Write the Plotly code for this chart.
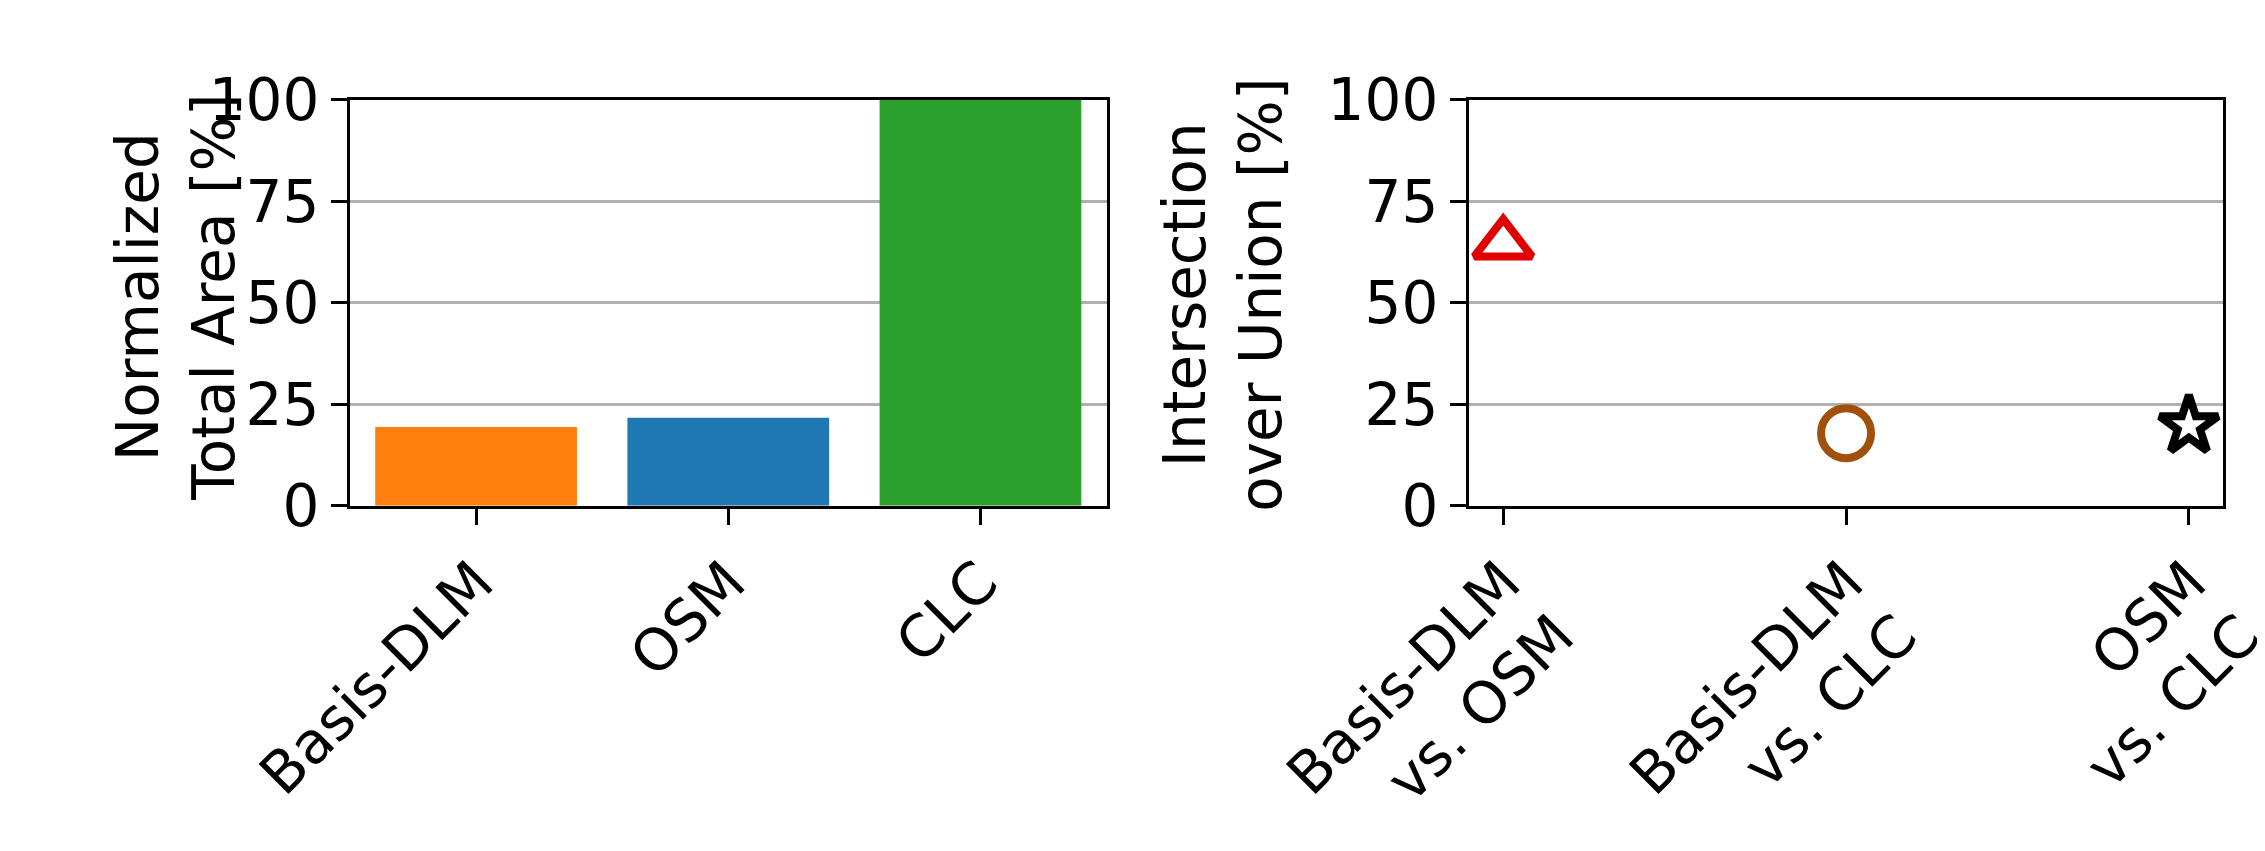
import plotly.graph_objects as go

datasets = ["Basis-DLM", "OSM", "CLC"]
area_pct = [19.4, 21.7, 100]
bar_colors = ["#ff7f0e", "#1f77b4", "#2ca02c"]

pairs = ["Basis-DLM<br>vs. OSM", "Basis-DLM<br>vs. CLC", "OSM<br>vs. CLC"]
iou_pct = [64.5, 17.9, 19.7]
symbols = ["triangle-up-open", "circle-open", "star-open"]
mcolors = ["#e00000", "#a0500a", "#000000"]

F = "DejaVu Sans"
fig = go.Figure()
fig.add_trace(go.Bar(x=datasets, y=area_pct, marker=dict(color=bar_colors, line_width=0),
                     width=0.8, xaxis="x", yaxis="y", showlegend=False))
for p, v, s, c in zip(pairs, iou_pct, symbols, mcolors):
    fig.add_trace(go.Scatter(x=[p], y=[v], mode="markers", xaxis="x2", yaxis="y2", showlegend=False,
                             marker=dict(symbol=s, size=50 if s != "star-open" else 44,
                                         color=c, line=dict(color=c, width=8))))

ax = dict(showline=True, mirror=True, linecolor="black", linewidth=3, ticks="outside", automargin=False,
          ticklen=16, tickwidth=3, tickcolor="black", tickfont=dict(family=F, size=58, color="black"))
yax = dict(ax, range=[0, 100], tickvals=[0, 25, 50, 75, 100], showgrid=True,
           gridcolor="#b0b0b0", gridwidth=3, zeroline=False)
fig.update_layout(
    width=2265, height=851, margin=dict(l=0, r=0, t=0, b=0, autoexpand=False),
    plot_bgcolor="white", paper_bgcolor="white",
    xaxis=dict(ax, domain=[0.151, 0.485], range=[-0.5, 2.5], tickangle=-45, showgrid=False),
    yaxis=dict(yax, domain=[0.415, 0.892], anchor="x"),
    xaxis2=dict(ax, domain=[0.645, 0.978], range=[-0.1, 2.1], tickangle=-45, showgrid=False,
                anchor="y2"),
    yaxis2=dict(yax, domain=[0.415, 0.892], anchor="x2"),
    annotations=[
        dict(text="Normalized<br>Total Area [%]", x=94/2265, y=0.66, xref="paper", yref="paper",
             textangle=-90, showarrow=False, font=dict(family=F, size=58, color="black")),
        dict(text="Intersection<br>over Union [%]", x=1215/2265, y=0.663, xref="paper", yref="paper",
             textangle=-90, showarrow=False, font=dict(family=F, size=58, color="black")),
    ],
)
fig.write_html("out.html")
